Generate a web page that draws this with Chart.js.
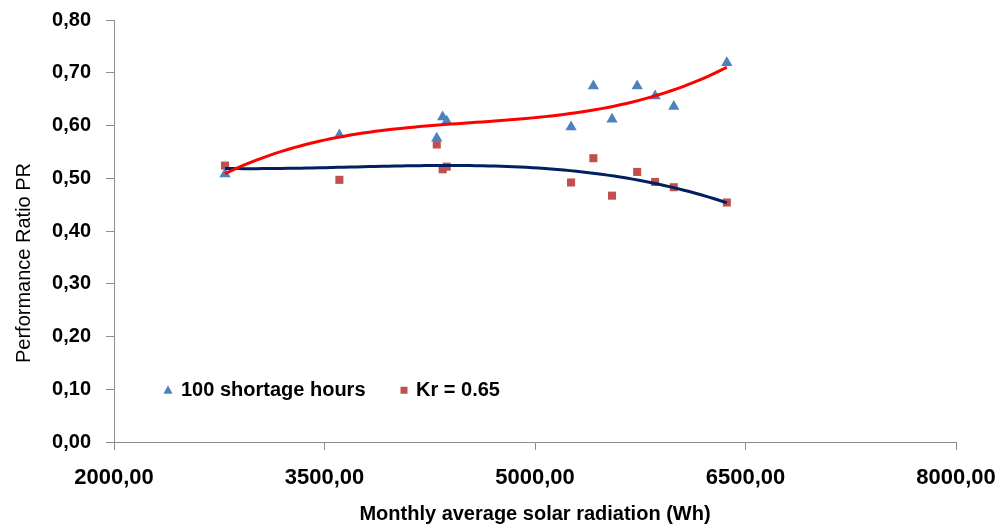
<!DOCTYPE html>
<html>
<head>
<meta charset="utf-8">
<script src="https://cdn.jsdelivr.net/npm/chart.js@4.4.1/dist/chart.umd.min.js"></script>
<style>
  html, body { margin: 0; padding: 0; background: #fff; }
  #wrap { width: 997px; height: 529px; }
</style>
</head>
<body>
<div id="wrap"><canvas id="c" width="997" height="529"></canvas></div>
<script>
// Monthly average solar radiation (Wh) for each month
const radiation = [2791, 3606, 4300, 4342, 4371, 5257, 5416, 5549, 5728, 5856, 5989, 6367];
// Performance ratio with 100 shortage hours
const prShortage = [0.508, 0.582, 0.576, 0.616, 0.608, 0.597, 0.675, 0.612, 0.675, 0.656, 0.636, 0.719];
// Performance ratio with Kr = 0.65
const prKr = [0.524, 0.497, 0.564, 0.517, 0.522, 0.492, 0.538, 0.467, 0.512, 0.493, 0.483, 0.454];

const seriesNames = ['100 shortage hours', 'Kr = 0.65'];
const xTicks = [2000, 3500, 5000, 6500, 8000];
const yTicks = [0, 0.1, 0.2, 0.3, 0.4, 0.5, 0.6, 0.7, 0.8];

const BLUE = '#4F81BD', RED = '#C0504D', TREND_RED = '#FF0000', TREND_NAVY = '#002060';
const AXIS = '#8C8C8C';
const FONT = "'Liberation Sans', Arial, sans-serif";

// Third-order polynomial trendline (least squares), evaluated across the data range
function polyTrend(xs, ys, order) {
  const c = 5000, s = 1000;
  const t = xs.map(x => (x - c) / s);
  const n = order + 1;
  const A = [];
  for (let i = 0; i < n; i++) {
    A.push(new Array(n + 1).fill(0));
    for (let j = 0; j < n; j++) A[i][j] = t.reduce((a, v) => a + Math.pow(v, i + j), 0);
    A[i][n] = t.reduce((a, v, k) => a + ys[k] * Math.pow(v, i), 0);
  }
  for (let i = 0; i < n; i++) {
    let p = i;
    for (let r = i + 1; r < n; r++) if (Math.abs(A[r][i]) > Math.abs(A[p][i])) p = r;
    [A[i], A[p]] = [A[p], A[i]];
    for (let r = 0; r < n; r++) {
      if (r === i) continue;
      const f = A[r][i] / A[i][i];
      for (let k = i; k <= n; k++) A[r][k] -= f * A[i][k];
    }
  }
  const coef = A.map((row, i) => row[n] / row[i]);
  const lo = Math.min(...xs), hi = Math.max(...xs);
  const pts = [];
  const steps = 80;
  for (let k = 0; k <= steps; k++) {
    const x = lo + (hi - lo) * k / steps;
    const tt = (x - c) / s;
    let y = 0;
    coef.forEach((cf, i) => { y += cf * Math.pow(tt, i); });
    pts.push({ x, y });
  }
  return pts;
}

const toPoints = (xs, ys) => xs.map((x, i) => ({ x, y: ys[i] }));
const fmt = (v, d) => v.toFixed(d).replace('.', ',');

const trendLine = (label, data, color) => ({
  label, type: 'line', data, borderColor: color, borderWidth: 3,
  pointRadius: 0, fill: false, tension: 0, order: 0
});

// Legend inside the plot area along the 0,10 level, plus the rotated y title
const decorations = {
  id: 'decorations',
  afterDraw(chart) {
    const { ctx, chartArea } = chart;
    const y = chart.scales.y.getPixelForValue(0.1) + 1;
    const left = chartArea.left;
    ctx.save();
    ctx.font = 'bold 20px ' + FONT;
    ctx.textBaseline = 'middle';
    ctx.fillStyle = BLUE;
    ctx.beginPath();
    const tx = left + 54;
    ctx.moveTo(tx, y - 5);
    ctx.lineTo(tx + 4.5, y + 3.5);
    ctx.lineTo(tx - 4.5, y + 3.5);
    ctx.closePath();
    ctx.fill();
    ctx.fillStyle = '#000';
    ctx.fillText(seriesNames[0], left + 67, y);
    ctx.fillStyle = RED;
    ctx.fillRect(left + 290 - 3.5, y - 3.5, 7, 7);
    ctx.fillStyle = '#000';
    ctx.fillText(seriesNames[1], left + 302, y);

    ctx.translate(24, 263);
    ctx.rotate(-Math.PI / 2);
    ctx.font = '20px ' + FONT;
    ctx.textAlign = 'center';
    ctx.fillText('Performance Ratio PR', 0, 0);
    ctx.restore();
  }
};

new Chart(document.getElementById('c'), {
  type: 'scatter',
  data: {
    datasets: [
      trendLine(seriesNames[0] + ' trend', polyTrend(radiation, prShortage, 3), TREND_RED),
      trendLine(seriesNames[1] + ' trend', polyTrend(radiation, prKr, 3), TREND_NAVY),
      {
        label: seriesNames[0],
        data: toPoints(radiation, prShortage),
        pointStyle: 'triangle',
        pointRadius: 6.5,
        backgroundColor: BLUE,
        borderColor: BLUE,
        borderWidth: 0,
        order: 1
      },
      {
        label: seriesNames[1],
        data: toPoints(radiation, prKr),
        pointStyle: 'rect',
        pointRadius: 5.7,
        backgroundColor: RED,
        borderColor: RED,
        borderWidth: 0,
        order: 1
      }
    ]
  },
  options: {
    responsive: false,
    animation: false,
    layout: { padding: { left: 0, right: 41, top: 20, bottom: 0 } },
    plugins: {
      legend: { display: false },
      tooltip: { enabled: false }
    },
    scales: {
      x: {
        type: 'linear',
        min: xTicks[0],
        max: xTicks[xTicks.length - 1],
        afterBuildTicks: s => { s.ticks = xTicks.map(v => ({ value: v })); },
        afterFit: s => { s.height = 87; s.paddingLeft = 0; s.paddingRight = 0; },
        ticks: {
          color: '#000',
          font: { family: FONT, size: 22, weight: 'bold' },
          padding: 15,
          maxRotation: 0,
          callback: v => fmt(v, 2)
        },
        grid: { drawOnChartArea: false, tickLength: 8, color: AXIS, tickColor: AXIS },
        border: { color: AXIS, width: 1 },
        title: {
          display: true,
          text: 'Monthly average solar radiation (Wh)',
          color: '#000',
          font: { family: FONT, size: 20, weight: 'bold' },
          padding: { top: 4, bottom: 3 }
        }
      },
      y: {
        type: 'linear',
        min: yTicks[0],
        max: yTicks[yTicks.length - 1],
        afterBuildTicks: s => { s.ticks = yTicks.map(v => ({ value: v })); },
        afterFit: s => { s.width = 114; s.paddingTop = 0; s.paddingBottom = 0; },
        ticks: {
          color: '#000',
          font: { family: FONT, size: 20, weight: 'bold' },
          padding: 15,
          callback: v => fmt(v, 2)
        },
        grid: { drawOnChartArea: false, tickLength: 8, color: AXIS, tickColor: AXIS },
        border: { color: AXIS, width: 1 }
      }
    }
  },
  plugins: [decorations]
});
</script>
</body>
</html>
